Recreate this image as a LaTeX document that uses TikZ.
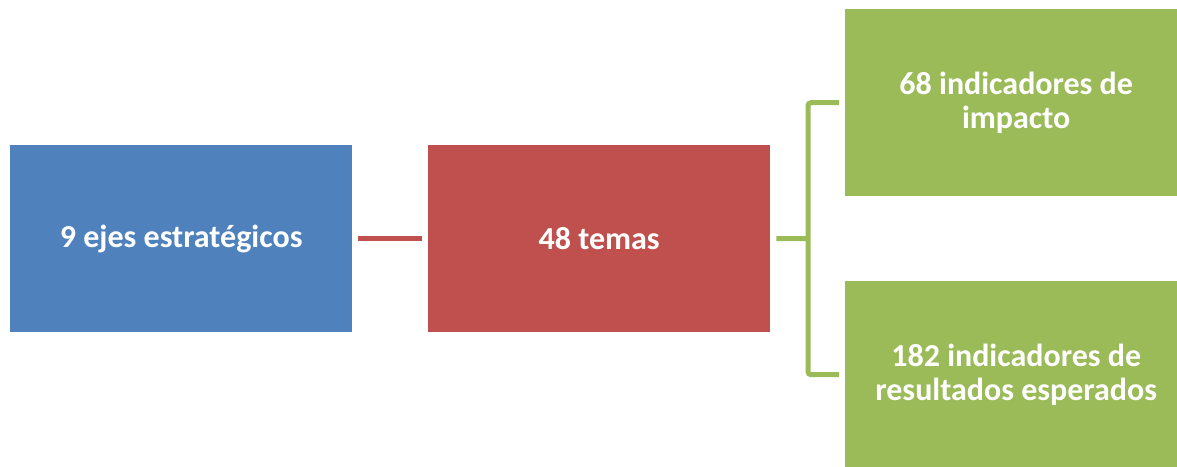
\documentclass[tikz,border=0pt]{standalone}
\usepackage{fontspec}
\setmainfont{Carlito}
\definecolor{cblue}{HTML}{4F81BD}
\definecolor{cred}{HTML}{C0504D}
\definecolor{cgreen}{HTML}{9BBB59}
\begin{document}
\begin{tikzpicture}[x=1pt,y=-1pt,
  box/.style={anchor=north west, minimum width=342pt, minimum height=187pt, inner sep=0pt,
    text=white, font=\fontsize{32}{34}\selectfont\bfseries, align=center},
  redline/.style={draw=cred, line width=5pt},
  gline/.style={draw=cgreen, line width=5pt}]
\path[use as bounding box, clip] (0,0) rectangle (1177,466);
\fill[white] (0,0) rectangle (1177,466);
\node[box, fill=cblue] (blue) at (10,145) {9 ejes estratégicos};
\node[box, fill=cred] (red) at (428,145) {48 temas};
\node[box, fill=cgreen] (g1) at (845,9) {68 indicadores de\\impacto};
\node[box, fill=cgreen] (g2) at (845,281) {182 indicadores de\\resultados esperados};
\draw[redline] ([xshift=6pt]blue.east) -- ([xshift=-6pt]red.west);
\coordinate (bx) at (808,238.5);
\draw[gline, rounded corners=3pt] ([xshift=-6pt]g1.west) -- (g1.west -| bx) -- (g2.west -| bx) -- ([xshift=-6pt]g2.west);
\draw[gline] ([xshift=6pt]red.east) -- (bx);
\end{tikzpicture}
\end{document}
